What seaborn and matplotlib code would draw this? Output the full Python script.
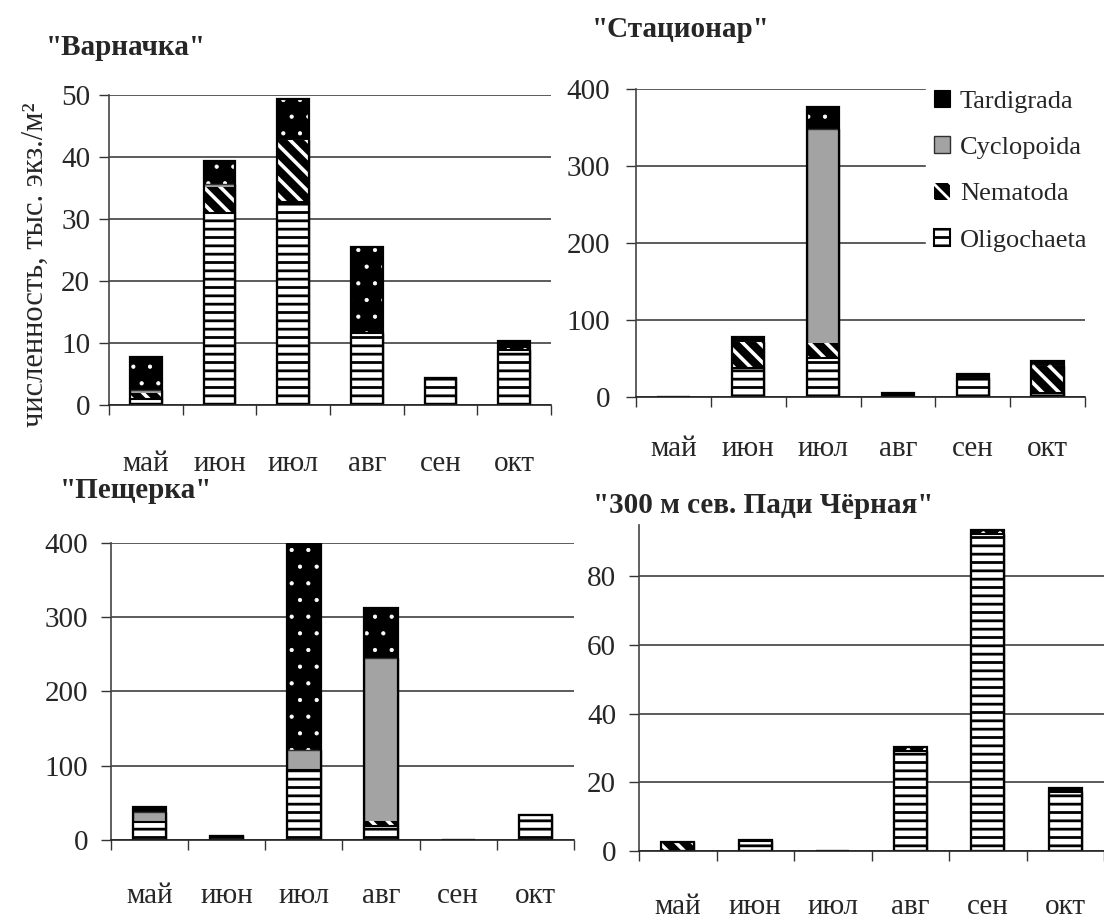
import numpy as np
import pandas as pd
import matplotlib.pyplot as plt
import seaborn as sns
from matplotlib.patches import Patch

months = ["май", "июн", "июл", "авг", "сен", "окт"]
taxa = ["Oligochaeta", "Nematoda", "Cyclopoida", "Tardigrada"]

# "Варначка"
varn_olig = [0.9, 31.0, 32.8, 11.6, 4.4, 8.8]
varn_nem = [1.0, 4.1, 9.9, 0, 0, 0]
varn_cyc = [0.5, 0.5, 0, 0, 0, 0]
varn_tard = [5.4, 3.8, 6.7, 13.9, 0, 1.6]

# "Стационар"
stac_olig = [0, 37, 51, 0, 23, 4.3]
stac_nem = [0, 34.6, 19.5, 0, 0, 36]
stac_cyc = [0, 0, 277.5, 0, 1, 0]
stac_tard = [0, 6.4, 28.6, 5.2, 6, 6]

# "Пещерка"
pesch_olig = [23.7, 5.4, 94.6, 19.2, 0, 34]
pesch_nem = [0, 0, 0, 6.7, 0, 0]
pesch_cyc = [13.3, 0, 25.9, 219.6, 0, 0]
pesch_tard = [7.6, 0, 279.5, 67, 0, 0]

# "300 м сев. Пади Чёрная"
padi_olig = [0, 2.8, 0, 29.1, 92.4, 17.2]
padi_nem = [2.6, 0, 0, 0, 0, 0]
padi_cyc = [0, 0, 0, 0, 0, 0]
padi_tard = [0, 0.3, 0, 1.2, 1.0, 1.0]

sns.set_style("ticks")
plt.rcParams["font.family"] = ["Liberation Serif", "DejaVu Serif"]
plt.rcParams["hatch.linewidth"] = 2.0

styles = {
    "Oligochaeta": dict(fc="white", ec="black", hatch="--", lw=1.5, hlw=2.0),
    "Nematoda": dict(fc="black", ec="white", hatch="\\\\", lw=0, hlw=2.6),
    "Cyclopoida": dict(fc="#a3a3a3", ec="#303030", hatch=None, lw=1.0, hlw=1.0),
    "Tardigrada": dict(fc="black", ec="white", hatch=".", lw=0, hlw=0.6),
}


def style_patch(p, st):
    p.set_facecolor(st["fc"])
    p.set_edgecolor(st["ec"])
    p.set_linewidth(st["lw"])
    if st["hatch"]:
        p.set_hatch(st["hatch"])
        if hasattr(p, "set_hatch_linewidth"):
            p.set_hatch_linewidth(st["hlw"])


def draw_panel(ax, layers, ymax, yticks, ypad, xpad):
    df = pd.DataFrame(layers, index=taxa, columns=months)
    cum = df.cumsum(axis=0)
    # top layer first, lower layers painted over it
    for t in taxa[::-1]:
        sns.barplot(x=months, y=cum.loc[t].values, ax=ax, width=0.43,
                    errorbar=None, saturation=1, color="white")
        for p in ax.containers[-1]:
            style_patch(p, styles[t])
    sns.barplot(x=months, y=cum.loc[taxa[-1]].values, ax=ax, width=0.43,
                errorbar=None, saturation=1, color="white")
    for p in ax.containers[-1]:
        p.set_facecolor("none")
        p.set_edgecolor("black")
        p.set_linewidth(1.6)

    ax.set_xlim(-0.5, 5.5)
    ax.set_ylim(0, ymax)
    ax.set_yticks(yticks)
    ax.set_xticks(np.arange(-0.5, 6, 1))
    ax.set_xticklabels([])
    ax.set_xticks(range(6), minor=True)
    ax.set_xticklabels(months, minor=True)
    ax.set_xlabel("")
    ax.set_ylabel("")
    ax.tick_params(axis="x", which="major", length=7.5, width=1, color="#333333")
    ax.tick_params(axis="x", which="minor", length=0, pad=xpad, labelsize=21)
    ax.tick_params(axis="y", length=7.5, width=1, color="#333333", pad=ypad, labelsize=21)
    ax.yaxis.grid(True, color="#404040", lw=1.2)
    ax.xaxis.grid(False)
    ax.set_axisbelow(True)
    sns.despine(ax=ax)
    ax.spines["left"].set_color("#444444")
    ax.spines["bottom"].set_color("#222222")
    ax.spines["left"].set_linewidth(1.2)
    ax.spines["bottom"].set_linewidth(1.2)


fig = plt.figure(figsize=(11.04, 9.23), dpi=100)
W, H = 1104, 923


def add_ax(l, r, top, bottom):
    return fig.add_axes([l / W, 1 - bottom / H, (r - l) / W, (bottom - top) / H])


ax1 = add_ax(109, 551, 95, 405)
ax2 = add_ax(636, 1085, 89.3, 396.7)
ax3 = add_ax(111, 574, 542.7, 840)
ax4 = add_ax(639, 1104, 525, 850.7)

draw_panel(ax1, [varn_olig, varn_nem, varn_cyc, varn_tard], 50, range(0, 51, 10), 6, 33)
draw_panel(ax2, [stac_olig, stac_nem, stac_cyc, stac_tard], 400, range(0, 401, 100), 11, 28)
draw_panel(ax3, [pesch_olig, pesch_nem, pesch_cyc, pesch_tard], 400, range(0, 401, 100), 9, 31)
draw_panel(ax4, [padi_olig, padi_nem, padi_cyc, padi_tard], 95, range(0, 81, 20), 9, 31)

title_kw = dict(fontsize=21, fontweight="bold", ha="left", va="baseline")
fig.text(46 / W, 1 - 55 / H, '"Варначка"', **title_kw)
fig.text(592 / W, 1 - 37 / H, '"Стационар"', **title_kw)
fig.text(60 / W, 1 - 498 / H, '"Пещерка"', **title_kw)
fig.text(593 / W, 1 - 513 / H, '"300 м сев. Пади Чёрная"', **title_kw)

fig.text(35 / W, 1 - 265 / H, "численность, тыс. экз./м²", rotation=90,
         ha="center", va="center", fontsize=22)

legend_order = ["Tardigrada", "Cyclopoida", "Nematoda", "Oligochaeta"]
handles = []
for t in legend_order:
    st = styles[t]
    hatch = None if t == "Tardigrada" else st["hatch"]
    h = Patch(facecolor=st["fc"], edgecolor=st["ec"] if st["lw"] else st["fc"],
              hatch=hatch, linewidth=max(st["lw"], 0.8))
    handles.append(h)
leg = ax2.legend(handles, legend_order, loc="upper left",
                 bbox_to_anchor=(926 / W, 1 - 82 / H), bbox_transform=fig.transFigure,
                 frameon=True, fancybox=False, edgecolor="white", facecolor="white",
                 framealpha=1, borderpad=0.3, borderaxespad=0, handlelength=0.6,
                 handleheight=0.6, handletextpad=0.38, labelspacing=0.9, fontsize=19)
for h in leg.legend_handles:
    if h.get_hatch() and h.get_facecolor()[0] < 0.5:
        h.set_edgecolor("white")
        h.set_linewidth(0)

fig.savefig("out.png", dpi=100)
